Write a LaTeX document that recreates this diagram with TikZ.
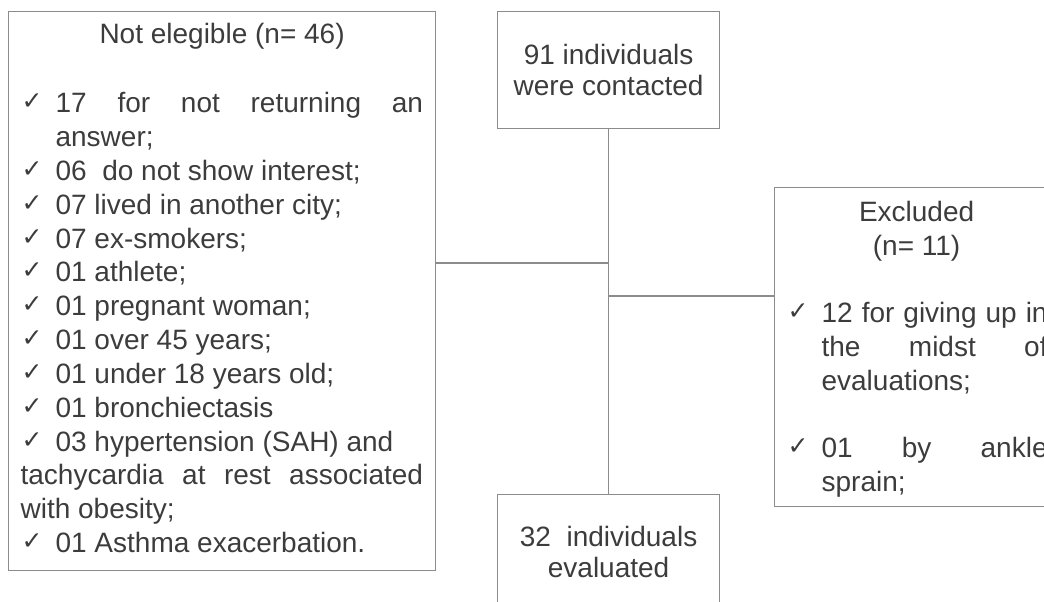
\documentclass[tikz,border=0pt]{standalone}
\usepackage{fontspec}
\setmainfont{Liberation Sans}
\newfontfamily\symfont{DejaVu Sans}
\usetikzlibrary{calc}
\definecolor{txtgray}{HTML}{3C3C3C}
\definecolor{boxgray}{HTML}{8C8C8C}
% check mark in front of an item
\newcommand{\okmark}{\makebox[35pt][l]{\hspace{1pt}\raisebox{3pt}{\symfont\fontsize{25}{25}\selectfont ✓}}}

\begin{document}
\begin{tikzpicture}[x=1pt, y=-1pt,
  font={\fontsize{28}{33.85}\selectfont}, text=txtgray,
  box/.style={draw=boxgray, line width=1.2pt, inner sep=0pt, anchor=north west},
  conn/.style={draw=boxgray, line width=1.2pt},
  flowbox/.style={box, minimum width=222pt, align=center, font={\fontsize{28}{31}\selectfont}}
  ]
  \useasboundingbox (0,0) rectangle (1044,602);
  \clip (0,0) rectangle (1044,602);

  % middle column
  \node[flowbox, minimum height=117pt] (contact) at (497,11) {91 individuals\\were contacted};
  \node[flowbox, minimum height=114pt] (evald) at (497,494) {32\ \ individuals\\evaluated};

  % not elegible
  \node[box] (noteleg) at (8,11) {\parbox[c][559pt][t]{427pt}{%
    {\centering\rule{0pt}{32pt}Not elegible (n= 46)\par}
    \vspace{35.15pt}
    {\raggedright\leftskip=12pt
    \okmark\makebox[367.5pt][s]{17 for not returning an}\\
    \hspace*{35pt}answer;\\
    \okmark 06\ \ do not show interest;\\
    \okmark 07 lived in another city;\\
    \okmark 07 ex-smokers;\\
    \okmark 01 athlete;\\
    \okmark 01 pregnant woman;\\
    \okmark 01 over 45 years;\\
    \okmark 01 under 18 years old;\\
    \okmark 01 bronchiectasis\\
    \okmark 03 hypertension (SAH) and\\
    \makebox[402.5pt][s]{tachycardia at rest associated}\\
    with obesity;\\
    \okmark 01 Asthma exacerbation.\par}}};

  % excluded
  \node[box] (excl) at (774,187) {\parbox[c][319pt][t]{284pt}{%
    {\centering\rule{0pt}{34pt}Excluded\\(n= 11)\par}
    \vspace{33.15pt}
    {\raggedright\leftskip=12pt
    \okmark\makebox[226pt][s]{12 for giving up in}\\
    \hspace*{35pt}\makebox[226pt][s]{the midst of}\\
    \hspace*{35pt}evaluations;\\[33.85pt]
    \okmark\makebox[226pt][s]{01 by ankle}\\
    \hspace*{35pt}sprain;\par}}};

  % connectors
  \coordinate (jleft) at (contact.south |- 0,263);
  \coordinate (jright) at (contact.south |- 0,296);
  \draw[conn] (contact.south) -- (evald.north);
  \draw[conn] (jleft) -- (jleft -| noteleg.east);
  \draw[conn] (jright) -- (jright -| excl.west);
\end{tikzpicture}
\end{document}
